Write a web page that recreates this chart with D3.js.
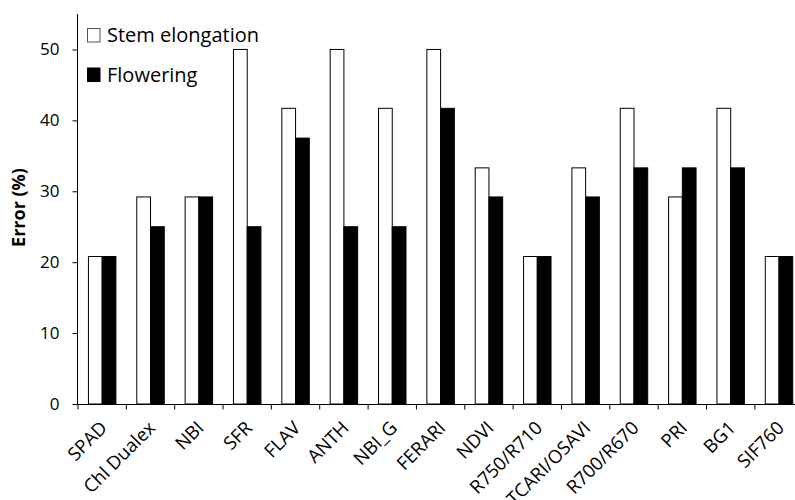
<!DOCTYPE html>
<html>
<head>
<meta charset="utf-8">
<script src="https://cdn.jsdelivr.net/npm/d3@7"></script>
<style>
  body { margin: 0; background: #fff; }
  svg { display: block; }
  svg text { font-family: "Open Sans", "Liberation Sans", sans-serif; fill: #000; }
</style>
</head>
<body>
<div id="chart"></div>
<script>
// chart data
const categories = ["SPAD", "Chl Dualex", "NBI", "SFR", "FLAV", "ANTH", "NBI_G", "FERARI",
    "NDVI", "R750/R710", "TCARI/OSAVI", "R700/R670", "PRI", "BG1", "SIF760"];
const stemElongation = [20.8, 29.2, 29.2, 50, 41.7, 50, 41.7, 50, 33.3, 20.8, 33.3, 41.7, 29.2, 41.7, 20.8];
const flowering = [20.8, 25, 29.2, 25, 37.5, 25, 25, 41.7, 29.2, 20.8, 29.2, 33.3, 33.3, 33.3, 20.8];
const yTicks = [0, 10, 20, 30, 40, 50];
const seriesNames = ["Stem elongation", "Flowering"];

const width = 795, height = 500;
const margin = { top: 14, right: -8.2, bottom: 96, left: 78 };

const svg = d3.select("#chart")
    .append("svg")
    .attr("width", width)
    .attr("height", height);

const x = d3.scaleBand()
    .domain(categories)
    .range([margin.left, width - margin.right])
    .paddingInner(0)
    .paddingOuter(0);

const y = d3.scaleLinear()
    .domain([0, 55])
    .range([height - margin.bottom, margin.top]);

const barW = x.bandwidth() * 0.284;

// bars
const g = svg.append("g");
g.selectAll("rect.stem")
    .data(categories)
    .enter()
    .append("rect")
    .attr("class", "stem")
    .attr("x", (d) => x(d) + x.bandwidth() / 2 - barW)
    .attr("y", (d, i) => y(stemElongation[i]))
    .attr("width", barW)
    .attr("height", (d, i) => y(0) - y(stemElongation[i]))
    .attr("fill", "#fff")
    .attr("stroke", "#000")
    .attr("stroke-width", 1);

g.selectAll("rect.flower")
    .data(categories)
    .enter()
    .append("rect")
    .attr("class", "flower")
    .attr("x", (d) => x(d) + x.bandwidth() / 2)
    .attr("y", (d, i) => y(flowering[i]))
    .attr("width", barW)
    .attr("height", (d, i) => y(0) - y(flowering[i]))
    .attr("fill", "#000")
    .attr("stroke", "#000")
    .attr("stroke-width", 1);

// y axis
const yAxis = svg.append("g")
    .attr("transform", `translate(${margin.left - 0.5},0)`)
    .call(d3.axisLeft(y).tickValues(yTicks).tickSize(5).tickSizeOuter(0).tickPadding(13));
yAxis.select(".domain").attr("d", `M0,${y(0)}V${margin.top}`);
yAxis.selectAll("text").style("font-size", "17px");

// x axis with ticks at category boundaries
const xAxis = svg.append("g")
    .attr("transform", `translate(0,${y(0) + 0.5})`);
xAxis.append("line")
    .attr("x1", margin.left - 5)
    .attr("x2", width)
    .attr("stroke", "#000");
xAxis.selectAll("line.tick")
    .data(categories)
    .enter()
    .append("line")
    .attr("class", "tick")
    .attr("x1", (d) => x(d))
    .attr("x2", (d) => x(d))
    .attr("y1", 0)
    .attr("y2", 5)
    .attr("stroke", "#000");
xAxis.selectAll("text")
    .data(categories)
    .enter()
    .append("text")
    .attr("transform", (d) => `translate(${x(d) + x.bandwidth() / 2 + 1.5},${20}) rotate(-45)`)
    .attr("text-anchor", "end")
    .attr("dy", "0.35em")
    .style("font-size", "18.5px")
    .text((d) => d);

// y axis title
svg.append("text")
    .attr("transform", "translate(25,207.5) rotate(-90)")
    .attr("text-anchor", "middle")
    .style("font-size", "18px")
    .style("font-weight", "bold")
    .text("Error (%)");

// legend
const legend = svg.append("g");
const legendY = [35, 74.5];
legend.selectAll("rect")
    .data(seriesNames)
    .enter()
    .append("rect")
    .attr("x", 87.5)
    .attr("y", (d, i) => legendY[i] - 6.5)
    .attr("width", 12.5)
    .attr("height", 13.5)
    .attr("fill", (d, i) => i === 0 ? "#fff" : "#000")
    .attr("stroke", (d, i) => i === 0 ? "#555" : "#000");
legend.selectAll("text")
    .data(seriesNames)
    .enter()
    .append("text")
    .attr("x", 107)
    .attr("y", (d, i) => legendY[i])
    .attr("dy", "0.35em")
    .style("font-size", "20px")
    .text((d) => d);
</script>
</body>
</html>
